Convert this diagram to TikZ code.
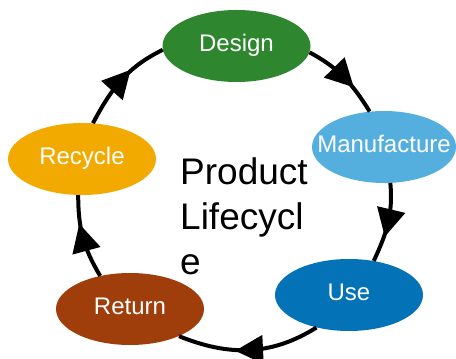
\documentclass[tikz,border=0pt]{standalone}
\usepackage{fontspec}
\setmainfont{Liberation Sans}
\usetikzlibrary{shapes.geometric}
\usetikzlibrary{arrows.meta}
\usetikzlibrary{decorations.markings}
\definecolor{designgreen}{RGB}{46,135,46}
\definecolor{manublue}{RGB}{85,175,222}
\definecolor{useblue}{RGB}{3,114,182}
\definecolor{returnbrown}{RGB}{160,62,11}
\definecolor{recycleorange}{RGB}{242,169,0}

\begin{document}
\begin{tikzpicture}[x=1pt,y=1pt,
  stage/.style={ellipse, minimum width=148pt, minimum height=72pt, inner sep=0pt,
    text=white, font=\fontsize{24}{28}\selectfont, text height=17pt, text depth=5pt},
  flow/.style={line width=4pt, postaction={decorate},
    decoration={markings, mark=at position 0.5 with {\arrow[xshift=14pt]{Triangle[length=28pt,width=28pt]}}}}]
\useasboundingbox (0,0) rectangle (456,359);

%Shape: Ellipses
\node [stage, fill=designgreen] (design) at (236.5,313) {\makebox[0pt]{Design}};
\node [stage, fill=manublue, minimum width=144pt] (manufacture) at (384,212) {\makebox[0pt]{Manufacture}};
\node [stage, fill=useblue] (use) at (349,64) {\makebox[0pt]{Use}};
\node [stage, fill=returnbrown] (return) at (130,50) {\makebox[0pt]{Return}};
\node [stage, fill=recycleorange] (recycle) at (82,200) {\makebox[0pt]{Recycle}};

%Curve Lines
\draw [flow] (design.-5) to [out=-28, in=122] (manufacture.112);
\draw [flow] (manufacture.-80) to [out=-85, in=65] (use.54);
\draw [flow] (use.225) to [out=212, in=-22] (return.-29);
\draw [flow] (return.132) to [out=121, in=-90] (recycle.-96);
\draw [flow] (recycle.73) to [out=62, in=206] (design.183);

% Text Node
\node [anchor=north west, inner sep=0pt, align=left, font=\fontsize{37}{45}\selectfont] (title) at (180,202) {Product\\Lifecycl\\e};

\end{tikzpicture}
\end{document}
